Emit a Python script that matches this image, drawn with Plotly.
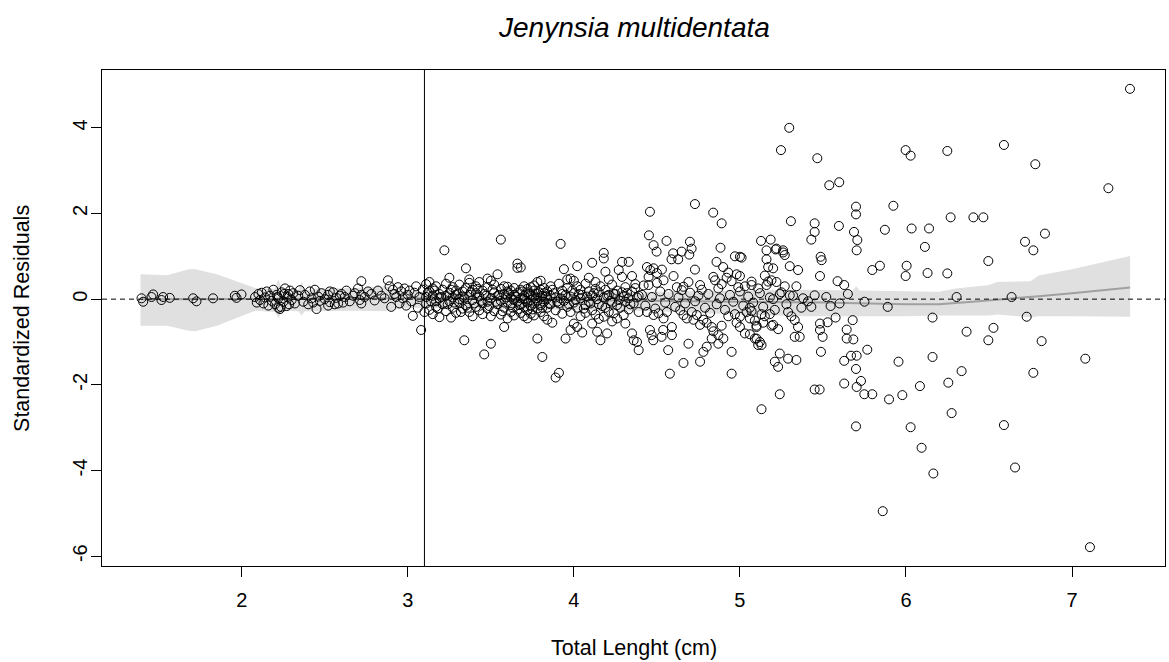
import plotly.graph_objects as go

# Standardized residuals vs total length (cm), Jenynsia multidentata
# Smallest fish (< 2 cm)
pts_small = [(1.396, 0.02), (1.406, -0.06), (1.456, 0.05), (1.466, 0.11), (1.516, -0.02),
             (1.526, 0.05), (1.566, 0.03), (1.707, 0.02), (1.727, -0.05), (1.827, 0.02),
             (1.958, 0.08), (1.968, 0.03), (1.998, 0.11)]

# 2 - 3.1 cm
pts_juv = [(2.08, 0.05), (2.09, -0.08), (2.10, 0.12), (2.11, -0.02), (2.12, 0.15), (2.13, -0.10),
           (2.14, 0.04), (2.15, 0.18), (2.16, -0.15), (2.17, 0.08), (2.18, -0.04), (2.19, 0.22),
           (2.20, -0.12), (2.21, 0.10), (2.22, -0.20), (2.22, 0.02), (2.23, -0.23), (2.24, 0.16),
           (2.25, -0.06), (2.26, 0.25), (2.27, -0.16), (2.28, 0.12), (2.29, 0.20), (2.30, -0.02),
           (2.31, 0.14), (2.32, -0.10), (2.34, 0.08), (2.35, 0.21), (2.37, -0.06), (2.38, 0.10),
           (2.40, -0.12), (2.41, 0.18), (2.42, 0.02), (2.43, -0.08), (2.44, 0.22), (2.45, -0.23),
           (2.46, 0.06), (2.47, -0.04), (2.48, 0.14), (2.50, 0.00), (2.52, 0.10), (2.53, -0.07),
           (2.55, 0.16), (2.57, 0.03), (2.58, -0.10), (2.60, 0.12), (2.62, 0.05), (2.63, 0.20),
           (2.65, -0.05), (2.67, 0.08), (2.68, 0.14), (2.70, 0.25), (2.71, -0.02), (2.72, 0.42),
           (2.72, 0.10), (2.72, -0.10), (2.74, 0.05), (2.76, 0.18), (2.78, 0.12), (2.80, -0.03),
           (2.82, 0.20), (2.84, 0.08), (2.86, 0.02), (2.88, 0.44), (2.89, 0.30), (2.90, -0.18),
           (2.91, 0.22), (2.92, 0.12), (2.93, 0.05), (2.94, 0.28), (2.95, -0.10), (2.96, 0.18),
           (2.97, 0.02), (2.98, 0.25), (2.99, -0.15), (3.00, 0.10), (3.01, 0.20), (3.02, -0.05),
           (3.03, -0.39), (3.04, 0.15), (3.05, 0.30), (3.06, -0.20), (3.07, 0.05), (3.08, -0.72),
           (3.09, 0.22), (3.10, -0.30), (2.215, 0.05), (2.235, -0.18), (2.255, 0.12), (2.275, 0.05),
           (2.285, -0.12), (2.52, -0.15), (2.53, 0.18), (2.56, -0.12), (2.59, 0.08), (2.61, -0.08)]

# 3.1 - 4.4 cm
pts_mid = [(3.11, 0.35), (3.11, -0.10), (3.11, 0.05), (3.13, -0.25), (3.13, 0.18), (3.13, 0.40),
           (3.15, 0.08), (3.15, -0.35), (3.15, 0.25), (3.17, -0.05), (3.17, 0.30), (3.17, -0.18),
           (3.19, 0.12), (3.19, -0.42), (3.19, 0.02), (3.21, 0.22), (3.21, -0.12), (3.22, 1.14),
           (3.23, -0.28), (3.23, 0.08), (3.23, 0.36), (3.25, 0.15), (3.25, -0.05), (3.25, 0.50),
           (3.26, -0.43), (3.27, -0.20), (3.27, 0.28), (3.27, 0.04), (3.29, 0.10), (3.29, -0.32),
           (3.29, 0.20), (3.31, -0.08), (3.31, 0.34), (3.31, 0.00), (3.33, 0.18), (3.33, -0.22),
           (3.33, 0.06), (3.35, 0.72), (3.35, -0.15), (3.35, 0.26), (3.34, -0.96), (3.37, 0.38),
           (3.37, 0.46), (3.37, -0.30), (3.37, 0.10), (3.39, -0.02), (3.39, 0.22), (3.39, -0.40),
           (3.41, 0.14), (3.41, -0.18), (3.41, 0.30), (3.43, -0.26), (3.43, 0.06), (3.43, 0.40),
           (3.45, 0.20), (3.45, -0.10), (3.45, -0.35), (3.46, -1.29), (3.46, 0.12), (3.48, 0.48),
           (3.48, -0.06), (3.48, 0.28), (3.48, -0.22), (3.50, 0.43), (3.50, -1.04), (3.50, 0.02),
           (3.50, -0.40), (3.52, 0.16), (3.52, -0.28), (3.52, 0.34), (3.54, 0.58), (3.54, -0.12),
           (3.54, 0.08), (3.56, 1.39), (3.56, 0.24), (3.56, -0.36), (3.56, -0.04), (3.58, 0.12),
           (3.58, -0.20), (3.58, -0.65), (3.58, 0.30), (3.60, 0.29), (3.60, -0.08), (3.60, -0.45),
           (3.60, 0.18), (3.62, -0.30), (3.62, 0.04), (3.62, 0.20), (3.62, -0.14), (3.64, 0.10),
           (3.64, -0.38), (3.64, 0.26), (3.64, -0.02), (3.66, 0.83), (3.66, 0.73), (3.66, -0.24),
           (3.66, 0.14), (3.66, -0.06), (3.68, 0.74), (3.68, 0.02), (3.68, -0.32), (3.68, 0.22),
           (3.68, -0.12), (3.70, -0.18), (3.70, 0.08), (3.70, 0.30), (3.70, -0.40), (3.70, 0.00),
           (3.72, 0.16), (3.72, -0.26), (3.72, -0.08), (3.72, 0.24), (3.72, -0.45), (3.74, -0.02),
           (3.74, 0.28), (3.74, -0.34), (3.74, 0.10), (3.74, -0.16), (3.76, 0.20), (3.76, -0.10),
           (3.76, -0.38), (3.76, 0.06), (3.76, 0.32), (3.78, 0.40), (3.78, -0.92), (3.78, -0.22),
           (3.78, 0.12), (3.78, -0.04), (3.80, 0.43), (3.80, -0.30), (3.80, 0.04), (3.80, 0.22),
           (3.80, -0.14), (3.81, -1.35), (3.81, 0.08), (3.82, -0.06), (3.82, 0.26), (3.82, -0.40),
           (3.82, 0.14), (3.84, 0.18), (3.84, -0.20), (3.84, 0.02), (3.84, -0.48), (3.86, 0.30),
           (3.86, -0.12), (3.86, 0.08), (3.87, -0.55), (3.87, 0.22), (3.89, -1.83), (3.89, 0.04),
           (3.89, -0.26), (3.91, -1.72), (3.91, 0.36), (3.91, -0.10), (3.92, 1.29), (3.93, 0.12),
           (3.93, -0.34), (3.93, 0.20), (3.94, 0.70), (3.95, -0.92), (3.94, -0.04), (3.96, 0.26),
           (3.96, -0.18), (3.96, 0.46), (3.98, -0.72), (3.98, 0.48), (3.98, 0.06), (3.98, -0.30),
           (4.00, -0.57), (4.00, 0.43), (4.00, 0.14), (4.00, -0.08), (4.02, 0.77), (4.02, -0.65),
           (4.02, 0.30), (4.02, -0.20), (4.04, 0.02), (4.04, -0.40), (4.04, 0.22), (4.05, -0.78),
           (4.05, 0.10), (4.07, 0.36), (4.07, -0.14), (4.07, -0.32), (4.09, 0.18), (4.09, -0.06),
           (4.09, 0.50), (4.11, 0.85), (4.11, -0.57), (4.11, 0.08), (4.11, -0.26), (4.13, 0.24),
           (4.13, -0.36), (4.14, -0.76), (4.13, 0.40), (4.15, -0.12), (4.15, 0.16), (4.15, -0.46),
           (4.16, -0.96), (4.16, 0.30), (4.18, 1.08), (4.18, 0.95), (4.18, -0.41), (4.18, 0.04),
           (4.19, 0.64), (4.20, -0.80), (4.19, -0.20), (4.19, 0.22), (4.21, 0.10), (4.21, -0.30),
           (4.21, 0.46), (4.23, -0.08), (4.23, 0.34), (4.23, -0.52), (4.24, -0.33), (4.24, 0.12),
           (4.26, -0.45), (4.26, 0.20), (4.26, -0.14), (4.27, 0.68), (4.27, -0.02), (4.29, 0.87),
           (4.29, 0.52), (4.30, -0.37), (4.29, 0.16), (4.31, -0.57), (4.31, 0.28), (4.31, -0.06),
           (4.33, 0.87), (4.33, 0.02), (4.33, -0.24), (4.35, 0.54), (4.35, -0.80), (4.35, 0.18),
           (4.36, -0.96), (4.36, -0.10), (4.37, 0.35), (4.38, -1.00), (4.37, 0.26), (4.39, -1.19),
           (4.39, 0.08), (4.39, -0.30),
           (3.12, 0.15), (3.14, -0.05), (3.16, 0.20), (3.18, -0.22), (3.20, 0.05), (3.24, -0.12),
           (3.26, 0.22), (3.28, -0.08), (3.30, 0.12), (3.32, -0.30), (3.34, 0.02), (3.36, -0.20),
           (3.38, 0.16), (3.40, -0.10), (3.42, 0.24), (3.44, -0.04), (3.47, 0.08), (3.49, -0.16),
           (3.51, 0.22), (3.53, -0.06), (3.55, 0.10), (3.57, -0.28), (3.59, 0.04), (3.61, 0.14),
           (3.63, -0.20), (3.65, 0.06), (3.67, -0.14), (3.69, 0.18), (3.71, -0.04), (3.73, 0.12),
           (3.75, -0.24), (3.77, 0.02), (3.79, 0.16), (3.81, -0.20), (3.83, 0.06), (3.85, -0.10),
           (3.88, 0.14), (3.90, -0.06), (3.92, 0.02), (3.95, 0.10), (3.97, -0.12), (3.99, 0.20),
           (4.01, -0.02), (4.03, 0.12), (4.06, -0.22), (4.08, 0.06), (4.10, -0.10), (4.12, 0.14),
           (4.14, 0.00), (4.17, -0.16), (4.20, 0.08), (4.22, -0.04), (4.25, 0.12), (4.28, -0.20),
           (4.30, 0.06), (4.32, 0.14), (4.34, -0.12), (4.38, 0.04)]

# 4.4 - 5.4 cm
pts_large = [(4.458, 2.04), (4.729, 2.22), (4.839, 2.02), (4.89, 1.77), (5.307, 1.82), (4.452, 1.49),
             (4.558, 1.36), (4.48, 1.26), (4.498, 1.11), (4.699, 1.34), (4.709, 1.18), (4.649, 1.11),
             (4.598, 1.07), (4.628, 0.93), (4.588, 0.93), (4.695, 1.04), (4.883, 1.20), (4.859, 0.87),
             (4.899, 0.75), (4.729, 0.69), (4.97, 1.00), (5.01, 0.97), (5.127, 1.36), (5.185, 1.39),
             (5.16, 1.14), (5.16, 0.93), (5.17, 0.75), (5.20, 0.72), (5.22, 1.18), (5.26, 1.14),
             (5.27, 1.03), (5.30, 0.77), (5.35, 0.68), (4.44, 0.75), (4.46, 0.68), (4.48, 0.72),
             (4.50, 0.61), (4.53, 0.69), (4.45, 0.52), (4.45, 0.33), (4.54, 0.44), (4.60, 0.54),
             (4.66, 0.29), (4.65, 0.21), (4.76, 0.33), (4.84, 0.52), (4.85, 0.44), (4.89, 0.35),
             (4.92, 0.50), (4.95, 0.42), (4.98, 0.58), (4.93, 0.62), (5.07, 0.33), (5.16, 0.33),
             (5.19, 0.44), (4.458, -0.72), (4.468, -0.84), (4.478, -0.96), (4.528, -0.88),
             (4.538, -0.72), (4.568, -1.19), (4.48, -0.37), (4.51, -0.33), (4.54, -0.45),
             (4.59, -0.65), (4.59, -0.84), (4.578, -1.74), (4.66, -1.49), (4.69, -1.04),
             (4.76, -1.46), (4.78, -1.23), (4.80, -1.11), (4.66, -0.37), (4.68, -0.45),
             (4.72, -0.48), (4.74, -0.37), (4.76, -0.60), (4.78, -0.48), (4.80, -0.55),
             (4.83, -0.65), (4.84, -0.75), (4.87, -0.84), (4.89, -0.62), (4.90, -0.92),
             (4.83, -0.92), (4.87, -1.04), (4.95, -1.74), (4.95, -1.23), (4.97, -0.35),
             (4.98, -0.55), (5.04, -0.30), (5.07, -0.28), (5.09, -0.50), (5.10, -0.62),
             (5.06, -0.82), (5.10, -0.92), (5.13, -1.07), (5.12, -1.00), (5.13, -0.35),
             (5.15, -0.40), (5.18, -0.35), (5.19, -0.62), (5.23, -0.70), (5.24, -1.27),
             (5.21, -1.46), (5.23, -1.58), (5.29, -1.39), (5.34, -1.42), (5.24, -2.22),
             (5.13, -2.57), (5.31, -0.40), (5.33, -0.49), (5.35, -0.65), (5.33, -0.88),
             (5.36, -0.88), (5.00, 0.99), (5.215, 1.16), (5.26, 1.09), (5.07, 0.41), (5.17, 0.41),
             (5.22, 0.40), (5.00, 0.54), (5.25, 0.16), (5.30, 0.09), (5.00, -0.41), (5.03, -0.80),
             (5.09, -0.92), (5.11, -1.07), (5.00, -0.65), (5.06, -0.45), (5.14, -0.55),
             (5.20, -0.60), (5.10, -0.65), (4.41, 0.10), (4.43, -0.15), (4.47, 0.05), (4.49, -0.22),
             (4.52, 0.18), (4.55, -0.08), (4.57, 0.12), (4.61, -0.18), (4.63, 0.04), (4.67, -0.10),
             (4.70, 0.15), (4.73, -0.05), (4.75, 0.08), (4.79, -0.20), (4.81, 0.12), (4.86, -0.12),
             (4.88, 0.02), (4.91, -0.25), (4.94, 0.10), (4.96, -0.06), (5.00, 0.18), (5.02, -0.15),
             (5.05, 0.06), (5.08, -0.08), (5.12, 0.14), (5.14, -0.18), (5.18, 0.04), (5.21, -0.25),
             (5.24, 0.12), (5.28, -0.12), (5.32, 0.08), (5.37, -0.20),
             (4.42, 0.32), (4.44, -0.30), (4.50, 0.38), (4.56, -0.30), (4.62, 0.28), (4.64, -0.26),
             (4.69, 0.40), (4.71, -0.30), (4.77, 0.22), (4.82, -0.32), (4.87, 0.25), (4.93, -0.40),
             (4.99, 0.28), (5.03, 0.30), (5.06, -0.20), (5.11, 0.25), (5.15, 0.55), (5.20, 0.00),
             (5.27, 0.30), (5.29, -0.30), (5.34, 0.30), (5.38, 0.02)]

# > 5.4 cm
pts_adult = [(5.297, 4.00), (5.247, 3.48), (5.466, 3.29), (5.538, 2.66), (5.598, 2.73), (5.998, 3.48),
             (6.028, 3.35), (5.699, 2.16), (5.699, 1.98), (5.924, 2.18), (5.45, 1.77), (5.45, 1.57),
             (5.43, 1.39), (5.596, 1.71), (5.687, 1.57), (5.707, 1.38), (5.703, 1.14), (5.873, 1.62),
             (6.034, 1.65), (6.139, 1.65), (6.114, 1.22), (5.486, 0.99), (5.492, 0.91), (5.797, 0.68),
             (5.843, 0.78), (6.004, 0.78), (5.998, 0.54), (6.13, 0.61), (5.482, 0.54), (5.588, 0.42),
             (5.628, 0.33), (5.45, 0.09), (5.43, -0.18), (5.546, -0.16), (5.89, -0.18), (6.16, -0.43),
             (5.576, -0.43), (5.679, -0.49), (5.482, -0.57), (5.482, -0.72), (5.528, -0.54),
             (5.498, -0.88), (5.643, -0.71), (5.643, -0.92), (5.683, -0.94), (5.488, -1.23),
             (5.767, -1.18), (5.628, -1.44), (5.669, -1.32), (5.703, -1.32), (5.699, -1.63),
             (5.955, -1.46), (6.16, -1.35), (5.628, -1.97), (5.729, -1.91), (5.703, -2.05),
             (5.45, -2.11), (5.48, -2.11), (5.749, -2.22), (5.797, -2.22), (5.898, -2.34),
             (5.978, -2.24), (6.084, -2.03), (5.699, -2.97), (6.028, -2.99), (6.094, -3.47),
             (6.165, -4.07), (5.86, -4.95), (7.349, 4.91), (6.249, 3.46), (6.59, 3.60), (6.779, 3.15),
             (7.219, 2.59), (6.269, 1.91), (6.406, 1.91), (6.466, 1.91), (6.837, 1.53), (6.717, 1.34),
             (6.767, 1.14), (6.496, 0.89), (6.249, 0.60), (6.305, 0.05), (6.636, 0.05), (6.727, -0.41),
             (6.365, -0.76), (6.527, -0.67), (6.496, -0.96), (6.817, -0.98), (7.08, -1.39),
             (6.335, -1.68), (6.255, -1.95), (6.767, -1.72), (6.275, -2.66), (6.59, -2.94),
             (6.657, -3.93), (7.108, -5.79), (5.41, -0.05), (5.52, 0.05), (5.60, -0.10), (5.65, 0.12),
             (5.75, -0.06)]

# Smoother and its confidence band
band_x = [1.39, 1.55, 1.68, 1.72, 1.85, 2.08, 2.20, 2.22, 2.24, 2.30, 2.34, 2.36, 2.38, 2.45,
          2.70, 2.87, 2.95, 3.10, 3.50, 4.00, 4.50, 5.00, 5.40, 5.68, 5.70, 5.72, 6.00, 6.20,
          6.30, 6.50, 6.55, 6.75, 6.80, 7.00, 7.35]
band_hi = [0.58, 0.56, 0.70, 0.70, 0.58, 0.26, 0.24, 0.47, 0.26, 0.22, 0.20, 0.40, 0.20, 0.25,
           0.26, 0.30, 0.20, 0.16, 0.15, 0.16, 0.17, 0.20, 0.22, 0.20, 0.30, 0.20, 0.18, 0.17,
           0.25, 0.33, 0.40, 0.42, 0.55, 0.70, 1.01]
band_lo = [-0.62, -0.62, -0.74, -0.75, -0.62, -0.27, -0.30, -0.44, -0.30, -0.27, -0.28, -0.38,
           -0.28, -0.28, -0.27, -0.28, -0.22, -0.20, -0.22, -0.25, -0.28, -0.36, -0.40, -0.40,
           -0.42, -0.40, -0.40, -0.38, -0.38, -0.38, -0.36, -0.42, -0.40, -0.40, -0.41]
smooth_x = [1.39, 2.0, 2.5, 3.0, 3.5, 4.0, 4.5, 5.0, 5.5, 6.0, 6.2, 6.4, 6.6, 6.8, 7.0, 7.2, 7.35]
smooth_y = [0.0, 0.0, 0.01, 0.02, 0.0, -0.03, -0.05, -0.06, -0.08, -0.12, -0.12, -0.06, 0.0,
            0.07, 0.14, 0.21, 0.27]

x_ticks = [2, 3, 4, 5, 6, 7]
y_ticks = [-6, -4, -2, 0, 2, 4]
size_break = 3.1

all_pts = pts_small + pts_juv + pts_mid + pts_large + pts_adult
tl = [p[0] for p in all_pts]
sr = [p[1] for p in all_pts]

FONT = "Liberation Sans, Arial, sans-serif"

fig = go.Figure()
fig.add_trace(go.Scatter(
    x=band_x + band_x[::-1], y=band_hi + band_lo[::-1],
    fill="toself", fillcolor="rgb(224,224,224)", line=dict(width=0),
    mode="lines", hoverinfo="skip", showlegend=False))
fig.add_trace(go.Scatter(
    x=smooth_x, y=smooth_y, mode="lines",
    line=dict(color="rgb(160,160,160)", width=2), showlegend=False))
fig.add_trace(go.Scatter(
    x=tl, y=sr, mode="markers",
    marker=dict(symbol="circle-open", size=9, color="black", line=dict(width=1, color="black")),
    showlegend=False))

fig.add_shape(type="line", xref="paper", yref="y", x0=0, x1=1, y0=0, y1=0,
              line=dict(color="black", width=1, dash="5px,4px"))
fig.add_shape(type="line", xref="x", yref="paper", x0=size_break, x1=size_break, y0=0, y1=1,
              line=dict(color="black", width=1))

axis_common = dict(showgrid=False, zeroline=False, showline=True, mirror=True,
                   linecolor="black", linewidth=1, ticks="outside", ticklen=10,
                   tickcolor="black", tickwidth=1,
                   tickfont=dict(family=FONT, size=20, color="black"))
fig.update_xaxes(range=[1.158, 7.56], tickvals=x_ticks, ticktext=[str(v) for v in x_ticks],
                 ticklabelstandoff=6, **axis_common)
fig.update_yaxes(range=[-6.23, 5.35], tickvals=y_ticks, ticktext=[str(v) for v in y_ticks],
                 tickangle=-90, ticklabelstandoff=-4, **axis_common)

fig.add_annotation(text="<i>Jenynsia multidentata</i>", xref="paper", yref="paper",
                   x=0.5, y=1.085, showarrow=False, xanchor="center", yanchor="middle",
                   font=dict(family=FONT, size=28, color="black"))
fig.add_annotation(text="Total Lenght (cm)", xref="paper", yref="paper",
                   x=0.5, y=-0.165, showarrow=False, xanchor="center", yanchor="middle",
                   font=dict(family=FONT, size=21.5, color="black"))
fig.add_annotation(text="Standardized Residuals", xref="paper", yref="paper",
                   x=-0.0753, y=0.5, showarrow=False, textangle=-90,
                   xanchor="center", yanchor="middle",
                   font=dict(family=FONT, size=21.5, color="black"))

fig.update_layout(width=1169, height=662, margin=dict(l=102, r=4, t=70, b=96),
                  plot_bgcolor="white", paper_bgcolor="white",
                  font=dict(family=FONT, color="black"))

fig.write_html("out.html")
